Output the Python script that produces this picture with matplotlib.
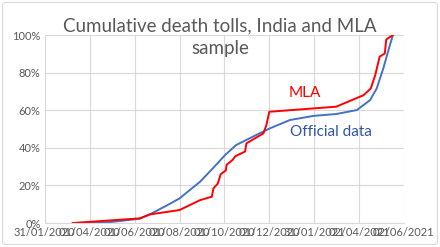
import matplotlib
matplotlib.use('Agg')
import matplotlib.pyplot as plt
import matplotlib.dates as mdates
from matplotlib.patches import FancyBboxPatch
import pandas as pd

# cumulative share of deaths (%)
mla_dates = ['09/03/2020', '08/06/2020', '22/06/2020', '01/08/2020', '29/08/2020',
             '14/09/2020', '16/09/2020', '22/09/2020', '26/09/2020', '03/10/2020',
             '04/10/2020', '12/10/2020', '16/10/2020', '29/10/2020', '31/10/2020',
             '23/11/2020', '27/11/2020', '01/12/2020', '02/03/2021', '08/04/2021',
             '18/04/2021', '24/04/2021', '30/04/2021', '07/05/2021', '09/05/2021',
             '18/05/2021']
mla_vals = [0, 2.5, 4.6, 6.9, 12.2, 14.0, 18.4, 21, 26, 28, 31, 33.5, 35.6, 38,
            42.4, 47.7, 52, 59.2, 61.9, 68, 71.6, 78.7, 88.5, 90.2, 97.7, 100]

off_dates = ['09/03/2020', '15/04/2020', '01/05/2020', '08/06/2020', '24/06/2020',
             '14/07/2020', '01/08/2020', '29/08/2020', '16/09/2020', '02/10/2020',
             '17/10/2020', '09/11/2020', '02/12/2020', '29/12/2020', '30/01/2021',
             '02/03/2021', '30/03/2021', '17/04/2021', '26/04/2021', '05/05/2021',
             '12/05/2021', '18/05/2021']
off_vals = [0, 0.3, 0.6, 2.3, 5.1, 9.2, 13.1, 22, 29.4, 36.2, 41.5, 46, 50.4,
            54.8, 57, 58, 60.1, 65.4, 71.6, 82.3, 92, 100]

tick_dates = ['31/01/2020', '01/04/2020', '01/06/2020', '01/08/2020', '01/10/2020',
              '01/12/2020', '31/01/2021', '02/04/2021', '02/06/2021']

plt.rcParams['font.family'] = ['Lato', 'DejaVu Sans']
grey = '#595959'

fig = plt.figure(figsize=(4.4, 2.47), dpi=100)
ax = fig.add_axes([0.102, 0.097, 0.816, 0.761])

d = lambda s: pd.to_datetime(s, format='%d/%m/%Y')
ax.plot(d(off_dates), off_vals, color='#4472C4', lw=1.4)
ax.plot(d(mla_dates), mla_vals, color='#FF0000', lw=1.4)

ticks = d(tick_dates)
ax.set_xlim(ticks[0], ticks[-1])
ax.set_ylim(0, 100)
ax.set_xticks(ticks)
ax.xaxis.set_major_formatter(mdates.DateFormatter('%d/%m/%Y'))
ax.set_yticks(range(0, 101, 20))
ax.set_yticklabels([f'{v}%' for v in range(0, 101, 20)])
ax.tick_params(length=0, labelsize=8, colors=grey, pad=3)
ax.grid(True, color='#D9D9D9', lw=0.8)
for s in ['top', 'right', 'left']:
    ax.spines[s].set_visible(False)
ax.spines['bottom'].set_color('#D9D9D9')

ax.text(d('18/01/2021'), 69, 'MLA', color='#FF0000', fontsize=11,
        ha='center', va='center')
ax.text(d('29/12/2020'), 48.2, 'Official data', color='#2F55A4', fontsize=11,
        ha='left', va='center')

fig.text(0.5, 0.85, 'Cumulative death tolls, India and MLA\nsample', ha='center',
         va='center', fontsize=13.5, color=grey, linespacing=1.4)

fig.patches.append(FancyBboxPatch((0.006, 0.01), 0.988, 0.98, boxstyle='round,pad=0,rounding_size=0.01',
                                  transform=fig.transFigure, fill=False, ec='#D9D9D9', lw=0.8))

fig.savefig('out.png', dpi=100, facecolor='white')
